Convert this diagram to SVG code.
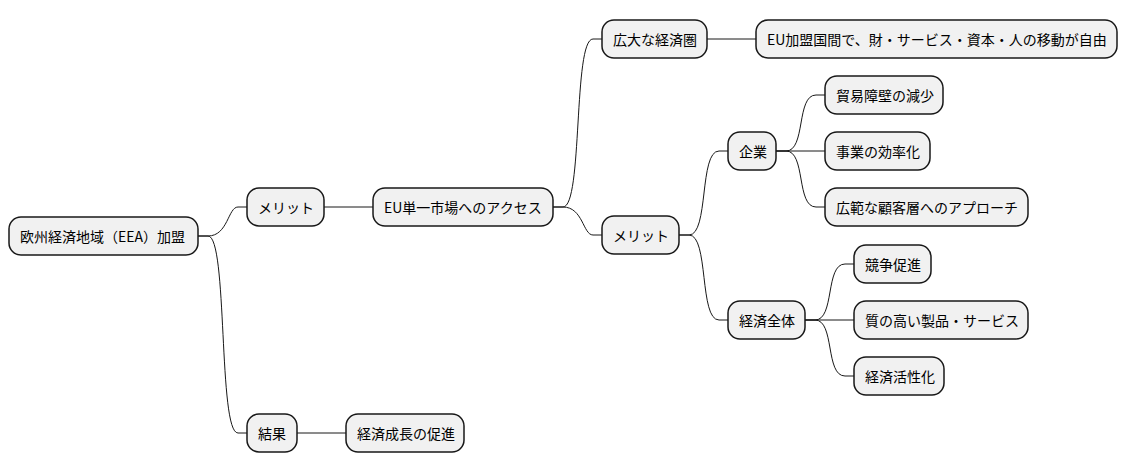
<svg xmlns="http://www.w3.org/2000/svg" width="1128" height="471" viewBox="0 0 1128 471">
<style>
.n rect{fill:#F1F1F1;stroke:#181818;stroke-width:1.5}
.n text{font-family:"Noto Sans CJK JP","Liberation Sans",sans-serif;font-size:14px;fill:#000;dominant-baseline:central}
#c path{fill:none;stroke:#181818;stroke-width:1}
</style>
<rect width="1128" height="471" fill="#fff"/>
<g id="c">
<path d="M198 236 H208 C228 236,228 207,238 207 H247"/>
<path d="M198 236 H208 C228 236,218 433,238 433 H247"/>
<path d="M324 207 H373"/>
<path d="M297 433 H346"/>
<path d="M553 207 H563 C583 207,573 39,593 39 H602"/>
<path d="M553 207 H563 C583 207,583 235,593 235 H602"/>
<path d="M707 39 H756"/>
<path d="M679 235 H689 C709 235,699 151,719 151 H728"/>
<path d="M679 235 H689 C709 235,699 320,719 320 H728"/>
<path d="M776 151 H786 C806 151,796 95,816 95 H825"/>
<path d="M776 151 H825"/>
<path d="M776 151 H786 C806 151,796 207,816 207 H825"/>
<path d="M805 320 H815 C835 320,825 264,845 264 H854"/>
<path d="M805 320 H854"/>
<path d="M805 320 H815 C835 320,825 376,845 376 H854"/>
</g>
<g id="root" class="n"><rect x="9" y="217" width="189" height="38" rx="12"/><text x="20" y="236">欧州経済地域（EEA）加盟</text></g>
<g id="merit1" class="n"><rect x="247" y="188" width="77" height="38" rx="12"/><text x="258" y="207">メリット</text></g>
<g id="result" class="n"><rect x="247" y="414" width="50" height="38" rx="12"/><text x="258" y="433">結果</text></g>
<g id="access" class="n"><rect x="373" y="188" width="180" height="38" rx="12"/><text x="384" y="207">EU単一市場へのアクセス</text></g>
<g id="growth" class="n"><rect x="346" y="414" width="118" height="38" rx="12"/><text x="357" y="433">経済成長の促進</text></g>
<g id="sphere" class="n"><rect x="602" y="20" width="105" height="38" rx="12"/><text x="613" y="39">広大な経済圏</text></g>
<g id="free" class="n"><rect x="756" y="20" width="361" height="38" rx="12"/><text x="767" y="39">EU加盟国間で、財・サービス・資本・人の移動が自由</text></g>
<g id="merit2" class="n"><rect x="602" y="216" width="77" height="38" rx="12"/><text x="613" y="235">メリット</text></g>
<g id="company" class="n"><rect x="728" y="132" width="48" height="38" rx="12"/><text x="739" y="151">企業</text></g>
<g id="economy" class="n"><rect x="728" y="301" width="77" height="38" rx="12"/><text x="739" y="320">経済全体</text></g>
<g id="trade" class="n"><rect x="825" y="76" width="118" height="38" rx="12"/><text x="836" y="95">貿易障壁の減少</text></g>
<g id="eff" class="n"><rect x="825" y="132" width="105" height="38" rx="12"/><text x="836" y="151">事業の効率化</text></g>
<g id="cust" class="n"><rect x="825" y="188" width="203" height="38" rx="12"/><text x="836" y="207">広範な顧客層へのアプローチ</text></g>
<g id="comp" class="n"><rect x="854" y="245" width="77" height="38" rx="12"/><text x="865" y="264">競争促進</text></g>
<g id="quality" class="n"><rect x="854" y="301" width="174" height="38" rx="12"/><text x="865" y="320">質の高い製品・サービス</text></g>
<g id="active" class="n"><rect x="854" y="357" width="90" height="38" rx="12"/><text x="865" y="376">経済活性化</text></g>
</svg>
